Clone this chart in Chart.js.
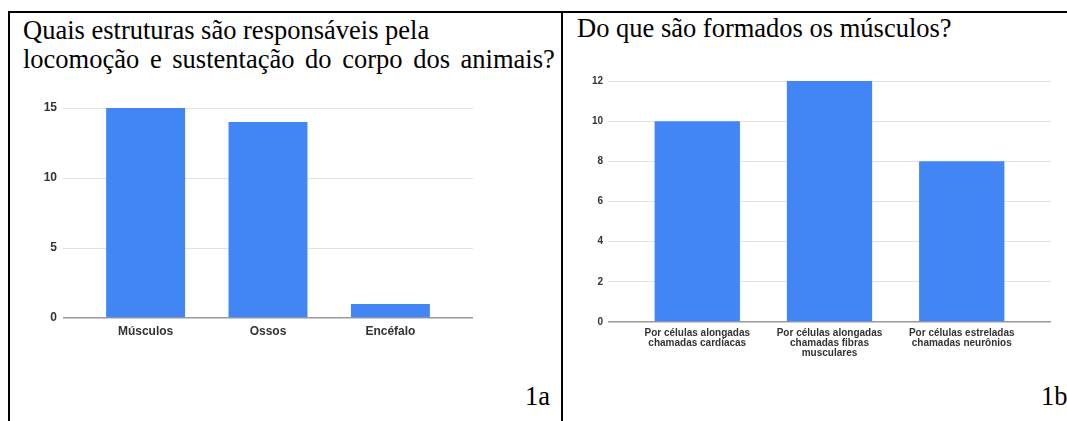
<!DOCTYPE html>
<html>
<head>
<meta charset="utf-8">
<title>Estruturas e músculos</title>
<script src="https://cdn.jsdelivr.net/npm/chart.js@4/dist/chart.umd.min.js"></script>
<style>
    body {
        margin: 0;
        width: 1067px;
        height: 421px;
        overflow: hidden;
        position: relative;
        background: #fff;
        color: #000;
        font-family: "Liberation Serif", "Times New Roman", serif;
    }
    .rule { position: absolute; background: #000; }
    .txt { position: absolute; font-size: 26.5px; line-height: 29px; white-space: nowrap; }
    .wide { word-spacing: 4px; }
    .box { position: absolute; }
</style>
</head>
<body>

<div class="rule" style="left:8px;top:11px;width:1059px;height:2px"></div>
<div class="rule" style="left:8px;top:11px;width:2px;height:410px"></div>
<div class="rule" style="left:561px;top:11px;width:2px;height:410px"></div>

<div class="txt" style="left:23px;top:16px">Quais estruturas são responsáveis pela<br><span class="wide">locomoção e sustentação do corpo dos animais?</span></div>
<div class="txt" style="left:577px;top:14px">Do que são formados os músculos?</div>
<div class="txt" style="left:525px;top:382px">1a</div>
<div class="txt" style="left:1041px;top:382px">1b</div>

<div class="box" style="left:20px;top:90px;width:520px;height:270px"><canvas id="chart-1a"></canvas></div>
<div class="box" style="left:570px;top:60px;width:490px;height:320px"><canvas id="chart-1b"></canvas></div>

<script>
// respostas da pergunta 1a
var categories1a = ["Músculos", "Ossos", "Encéfalo"];
var values1a = [15, 14, 1];
var yTicks1a = [0, 5, 10, 15];

// respostas da pergunta 1b (rótulos em várias linhas)
var categories1b = [
    ["Por células alongadas", "chamadas cardíacas"],
    ["Por células alongadas", "chamadas fibras", "musculares"],
    ["Por células estreladas", "chamadas neurônios"]
];
var values1b = [10, 12, 8];
var yTicks1b = [0, 2, 4, 6, 8, 10, 12];

var barColor = "#4285f4";

Chart.defaults.font.family = "'Liberation Sans', Arial, sans-serif";
Chart.defaults.font.weight = "bold";
Chart.defaults.color = "#333";

function MakeBarChart(canvasId, categories, values, yTicks, opts) {
    "use strict";

    var points = [];
    for (var i = 0; i < values.length; i++) {
        points.push({ x: i, y: values[i] });
    }

    var ctx = document.getElementById(canvasId);
    return new Chart(ctx, {
        type: "bar",
        data: {
            datasets: [{
                data: points,
                backgroundColor: barColor,
                borderWidth: 0,
                categoryPercentage: 1,
                barPercentage: 0.645
            }]
        },
        options: {
            responsive: true,
            maintainAspectRatio: false,
            animation: false,
            events: [],
            layout: { padding: opts.padding },
            plugins: {
                legend: { display: false },
                tooltip: { enabled: false }
            },
            scales: {
                x: {
                    type: "linear",
                    offset: false,
                    min: -opts.edge,
                    max: categories.length - 1 + opts.edge,
                    grid: { display: false, drawTicks: false },
                    border: { display: false },
                    ticks: {
                        autoSkip: false,
                        maxRotation: 0,
                        padding: opts.xPad,
                        font: { size: opts.fontSize, lineHeight: 1.0 },
                        callback: function (value) {
                            return categories[value];
                        }
                    },
                    afterBuildTicks: function (scale) {
                        scale.ticks = categories.map(function (c, idx) {
                            return { value: idx };
                        });
                    },
                    afterFit: function (scale) {
                        scale.height = opts.xHeight;
                    }
                },
                y: {
                    min: yTicks[0],
                    max: yTicks[yTicks.length - 1],
                    grid: {
                        drawTicks: false,
                        color: function (c) {
                            return c.tick.value === 0 ? "#9a9a9a" : "#e2e2e2";
                        },
                        lineWidth: function (c) {
                            return c.tick.value === 0 ? 1.5 : 1;
                        }
                    },
                    border: { display: false },
                    ticks: {
                        stepSize: yTicks[1] - yTicks[0],
                        padding: opts.yPad,
                        font: { size: opts.fontSize }
                    },
                    afterFit: function (scale) {
                        scale.width = opts.yWidth;
                    }
                }
            }
        }
    });
}

MakeBarChart("chart-1a", categories1a, values1a, yTicks1a, {
    edge: 0.675,
    padding: { left: 0, top: 18, right: 67, bottom: 0 },
    xHeight: 42,
    yWidth: 43,
    xPad: 8,
    yPad: 6,
    fontSize: 12
});

MakeBarChart("chart-1b", categories1b, values1b, yTicks1b, {
    edge: 0.675,
    padding: { left: 0, top: 21, right: 9, bottom: 0 },
    xHeight: 58,
    yWidth: 38,
    xPad: 6,
    yPad: 5,
    fontSize: 10
});
</script>
</body>
</html>
